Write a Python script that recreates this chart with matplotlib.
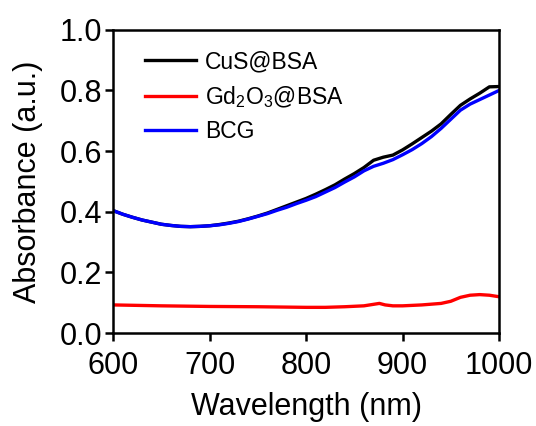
import matplotlib
matplotlib.use('Agg')
import matplotlib.pyplot as plt
import numpy as np

plt.rcParams['font.family'] = 'Liberation Sans'
plt.rcParams['mathtext.fontset'] = 'custom'
plt.rcParams['mathtext.rm'] = 'Liberation Sans'
plt.rcParams['mathtext.it'] = 'Liberation Sans'

# absorbance spectra
wl = [600, 610, 620, 630, 640, 650, 660, 670, 680, 690, 700, 710, 720, 730, 740,
      750, 760, 770, 780, 790, 800, 810, 820, 830, 840, 850, 860, 870, 880, 890,
      900, 910, 920, 930, 940, 950, 960, 970, 980, 990, 1000]
cus_bsa = [0.404, 0.392, 0.382, 0.373, 0.366, 0.359, 0.355, 0.352, 0.351, 0.352,
           0.354, 0.358, 0.363, 0.369, 0.377, 0.386, 0.396, 0.408, 0.420, 0.432,
           0.444, 0.458, 0.473, 0.489, 0.508, 0.526, 0.546, 0.570, 0.580, 0.587,
           0.604, 0.624, 0.645, 0.666, 0.690, 0.721, 0.751, 0.772, 0.791, 0.812, 0.813]
bcg = [0.404, 0.392, 0.382, 0.373, 0.366, 0.359, 0.355, 0.352, 0.351, 0.352,
       0.354, 0.357, 0.362, 0.368, 0.376, 0.385, 0.394, 0.405, 0.415, 0.427,
       0.438, 0.450, 0.465, 0.480, 0.498, 0.515, 0.535, 0.550, 0.560, 0.572,
       0.588, 0.605, 0.625, 0.648, 0.675, 0.705, 0.735, 0.755, 0.770, 0.785, 0.800]

wl_gd = [600, 650, 700, 750, 800, 820, 840, 860, 870, 876, 882, 890, 900, 920,
         940, 950, 960, 970, 980, 990, 1000]
gd_bsa = [0.093, 0.090, 0.088, 0.087, 0.085, 0.085, 0.087, 0.090, 0.095, 0.098,
          0.093, 0.090, 0.090, 0.093, 0.098, 0.105, 0.118, 0.125, 0.127, 0.125, 0.120]

fig = plt.figure(figsize=(5.36, 4.26), dpi=100)
ax = fig.add_axes([0.211, 0.218, 0.720, 0.712])

ax.plot(wl, cus_bsa, color='black', lw=2.4, label='CuS@BSA')
ax.plot(wl_gd, gd_bsa, color='#ff0000', lw=2.4, label='Gd$_2$O$_3$@BSA')
ax.plot(wl, bcg, color='#0000ff', lw=2.4, label='BCG')

ax.set_xlim(600, 1000)
ax.set_ylim(0, 1.0)
ax.set_xticks([600, 700, 800, 900, 1000])
ax.set_yticks(np.arange(0, 1.01, 0.2))
ax.set_yticklabels(['%.1f' % v for v in np.arange(0, 1.01, 0.2)])

for s in ax.spines.values():
    s.set_linewidth(1.8)
ax.tick_params(direction='out', length=6, width=1.8, labelsize=22, pad=2)
ax.tick_params(axis='x', pad=7)

ax.set_xlabel('Wavelength (nm)', fontsize=22, labelpad=8)
ax.set_ylabel('Absorbance (a.u.)', fontsize=22, labelpad=12)

ax.legend(loc='upper left', bbox_to_anchor=(0.03, 1.0), frameon=False,
          fontsize=16.5, handlelength=2.2, handletextpad=0.4, labelspacing=0.45)

fig.savefig('out.png', dpi=100)
